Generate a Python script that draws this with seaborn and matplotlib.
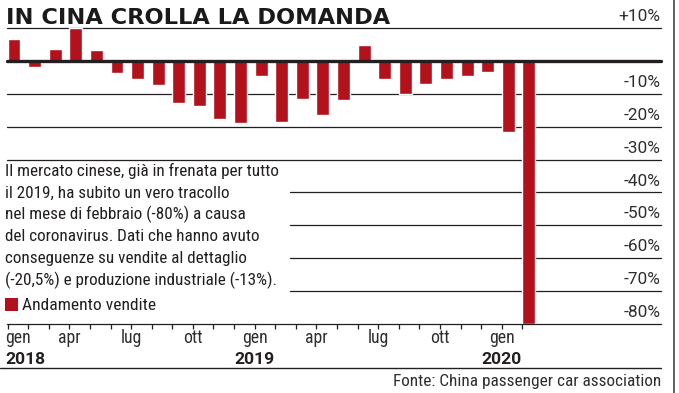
import matplotlib
matplotlib.use("Agg")
import matplotlib.pyplot as plt
from matplotlib.lines import Line2D
from matplotlib.patches import Rectangle
import seaborn as sns
import pandas as pd

# ---------------- data ----------------
months = ["gen", "feb", "mar", "apr", "mag", "giu", "lug", "ago", "set", "ott", "nov", "dic"] * 2 + ["gen", "feb"]
years = [2018] * 12 + [2019] * 12 + [2020] * 2
values = [6.8, -1.9, 3.7, 10.0, 3.4, -3.6, -5.5, -7.3, -12.7, -13.6, -17.8, -19.0,
          -4.6, -18.5, -11.7, -16.4, -12.0, 4.9, -5.4, -10.2, -6.9, -5.4, -4.5, -3.5,
          -21.6, -80.0]
month_label_idx = [0, 3, 6, 9, 12, 15, 18, 21, 24]
month_labels = ["gen", "apr", "lug", "ott", "gen", "apr", "lug", "ott", "gen"]
year_label_idx = [0, 12, 24]
year_labels = ["2018", "2019", "2020"]
y_grid = [10, 0, -10, -20, -30, -40, -50, -60, -70, -80]
y_labels = ["+10%", "", "-10%", "-20%", "-30%", "-40%", "-50%", "-60%", "-70%", "-80%"]
title = "IN CINA CROLLA LA DOMANDA"
note_lines = [
    "Il mercato cinese, già in frenata per tutto",
    "il 2019, ha subito un vero tracollo",
    "nel mese di febbraio (-80%) a causa",
    "del coronavirus. Dati che hanno avuto",
    "conseguenze su vendite al dettaglio",
    "(-20,5%) e produzione industriale (-13%).",
]
legend_label = "Andamento vendite"
source = "Fonte: China passenger car association"

df = pd.DataFrame({
    "periodo": [f"{y}-{i % 12 + 1:02d}" for i, y in enumerate(years)],
    "mese": months,
    "valore": values,
})

# ---------------- style ----------------
sns.set_theme(style="white")
COND = ["Roboto Condensed", "DejaVu Sans"]
LABF = ["Roboto", "DejaVu Sans"]
plt.rcParams["font.family"] = COND
RED = "#B3121C"
INK = "#231F20"
GREY = "#2E2E2E"
W, H = 679, 393

fig = plt.figure(figsize=(W / 100, H / 100), dpi=100)
fig.patch.set_facecolor("white")


def fx(px):
    return px / W


def fy(py):
    return 1 - py / H


ax_left, ax_right, ax_top, ax_bot = 7, 661, 28, 324
ax = fig.add_axes([fx(ax_left), fy(ax_bot), (ax_right - ax_left) / W, (ax_bot - ax_top) / H])
ax.set_facecolor("none")

BAR_W = 0.63
sns.barplot(data=df, x="periodo", y="valore", color=RED, saturation=1,
            width=BAR_W, ax=ax, zorder=2)
ax.set_ylim(-80, 10)
ax.set_xlim(-0.34, 31.41)
for s in ax.spines.values():
    s.set_visible(False)
ax.set_xlabel("")
ax.set_ylabel("")
ax.set_yticks([])

# gridlines
box_right_px = 290
for v in y_grid:
    if v == 0:
        ax.axhline(v, color=INK, lw=2.4, zorder=3, clip_on=False)
    elif -70 <= v <= -40:
        ax.axhline(v, xmin=(box_right_px - ax_left) / (ax_right - ax_left), xmax=1,
                   color=INK, lw=0.9, zorder=1, clip_on=False)
    else:
        ax.axhline(v, color=INK, lw=0.9, zorder=1, clip_on=False)

# y labels (above gridlines, right aligned)
for v, lab in zip(y_grid, y_labels):
    if lab:
        ax.annotate(lab, xy=(1, v), xycoords=("axes fraction", "data"),
                    xytext=(-0.5, 5.0), textcoords="offset points",
                    ha="right", va="baseline", fontsize=12.4, color=GREY,
                    family=LABF, fontweight="normal", annotation_clip=False)

# x ticks at month starts
ticks = [i - BAR_W / 2 for i in range(len(values))]
ax.set_xticks(ticks)
ax.set_xticklabels([])
ax.tick_params(axis="x", bottom=True, direction="out", length=3.5, width=0.9,
               color=INK, pad=0)

for idx, lab in zip(month_label_idx, month_labels):
    ha = "left" if idx == 0 else "center"
    xx = ticks[idx] - (0.1 if idx == 0 else 0)
    ax.annotate(lab, xy=(xx, -80), xycoords="data", xytext=(0, -14),
                textcoords="offset points", ha=ha, va="baseline",
                fontsize=12.8, color=GREY, annotation_clip=False)
for idx, lab in zip(year_label_idx, year_labels):
    ha = "left" if idx == 0 else "center"
    xx = ticks[idx] - (0.1 if idx == 0 else 0)
    ax.annotate(lab, xy=(xx, -80), xycoords="data", xytext=(0, -28.5),
                textcoords="offset points", ha=ha, va="baseline",
                fontsize=12.6, fontweight="bold", color=INK,
                family=LABF, annotation_clip=False)

# title
fig.text(fx(6), fy(23.5), title, ha="left", va="baseline", fontsize=16.2,
         fontweight="heavy", color="#1A1A1A", family=["DejaVu Sans"])

# note text
base0, step = 176, 21.8
for k, line in enumerate(note_lines):
    fig.text(fx(5), fy(base0 + k * step), line, ha="left", va="baseline",
             fontsize=12.3, color=INK)

# legend
fig.add_artist(Rectangle((fx(5), fy(311)), 13 / W, 13 / H, transform=fig.transFigure,
                         facecolor=RED, edgecolor="none"))
fig.text(fx(22), fy(310.5), legend_label, ha="left", va="baseline",
         fontsize=12.6, color=INK)

# bottom rule and right frame
fig.add_artist(Line2D([0, fx(661)], [fy(368), fy(368)], transform=fig.transFigure,
                      color=INK, lw=1.0))
fig.add_artist(Line2D([fx(674), fx(674)], [0, 1], transform=fig.transFigure,
                      color="#444444", lw=1.2))

# source
fig.text(fx(661), fy(386), source, ha="right", va="baseline", fontsize=12.4,
         color=GREY, fontweight="normal")

fig.savefig("out.png", dpi=100, facecolor="white")
